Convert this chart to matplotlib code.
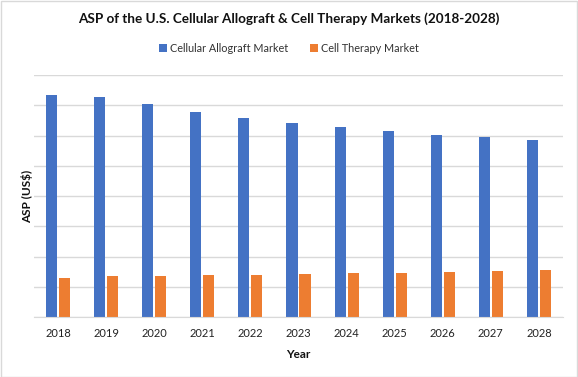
import matplotlib
matplotlib.use("Agg")
import matplotlib.pyplot as plt
import numpy as np
from matplotlib.patches import Rectangle

years = ["2018", "2019", "2020", "2021", "2022", "2023", "2024", "2025", "2026", "2027", "2028"]
allograft = [7.35, 7.28, 7.05, 6.79, 6.59, 6.42, 6.29, 6.16, 6.03, 5.96, 5.86]
cell_therapy = [1.29, 1.36, 1.36, 1.39, 1.39, 1.42, 1.46, 1.46, 1.49, 1.52, 1.56]

plt.rcParams['font.family'] = ['Lato', 'DejaVu Sans']

W, H = 578, 377
fig = plt.figure(figsize=(W / 100, H / 100), dpi=100)
fig.patch.set_facecolor("white")
fig.add_artist(Rectangle((0.5 / W, 0.5 / H), 1 - 1.5 / W, 1 - 1.5 / H, transform=fig.transFigure,
                         fill=False, edgecolor="#D9D9D9", linewidth=1))

ax = fig.add_axes([34 / W, 60 / H, (563 - 34) / W, (317 - 75) / H])
x = np.arange(len(years))
bw = 0.23
off = 0.135
blue = "#4472C4"
orange = "#ED7D31"
ax.bar(x - off, allograft, width=bw, color=blue, label="Cellular Allograft Market", zorder=3)
ax.bar(x + off, cell_therapy, width=bw, color=orange, label="Cell Therapy Market", zorder=3)

ax.set_xlim(-0.5, len(years) - 0.5)
ax.set_ylim(0, 8)
ax.set_yticks(np.arange(0, 9, 1))
ax.yaxis.grid(True, color="#D9D9D9", linewidth=1, zorder=0)
ax.set_yticklabels([])
ax.tick_params(axis="y", length=0)
ax.set_xticks(x)
ax.set_xticklabels(years, fontsize=8, color="#222222")
ax.tick_params(axis="x", length=0, pad=8)
for s in ["top", "right", "left"]:
    ax.spines[s].set_visible(False)
ax.spines["bottom"].set_color("#D9D9D9")
ax.spines["bottom"].set_zorder(4)

ax.set_xlabel("Year", fontsize=8.5, fontweight="bold", color="#111111", labelpad=7)
ax.set_ylabel("ASP (US$)", fontsize=8.5, fontweight="bold", color="#111111")
ax.yaxis.set_label_coords(-1 / 529, 0.5)

fig.text(0.5, 1 - 19 / H, "ASP of the U.S. Cellular Allograft & Cell Therapy Markets (2018-2028)",
         ha="center", va="center", fontsize=9.7, fontweight="bold", color="#111111")

leg = fig.legend(loc="center", bbox_to_anchor=(0.5, 1 - 48 / H), ncol=2, frameon=False,
                 fontsize=7.8, handlelength=0.7, handleheight=0.7, handletextpad=0.3,
                 columnspacing=2.0, labelcolor="#333333")

fig.savefig("out.png", dpi=100, facecolor="white")
